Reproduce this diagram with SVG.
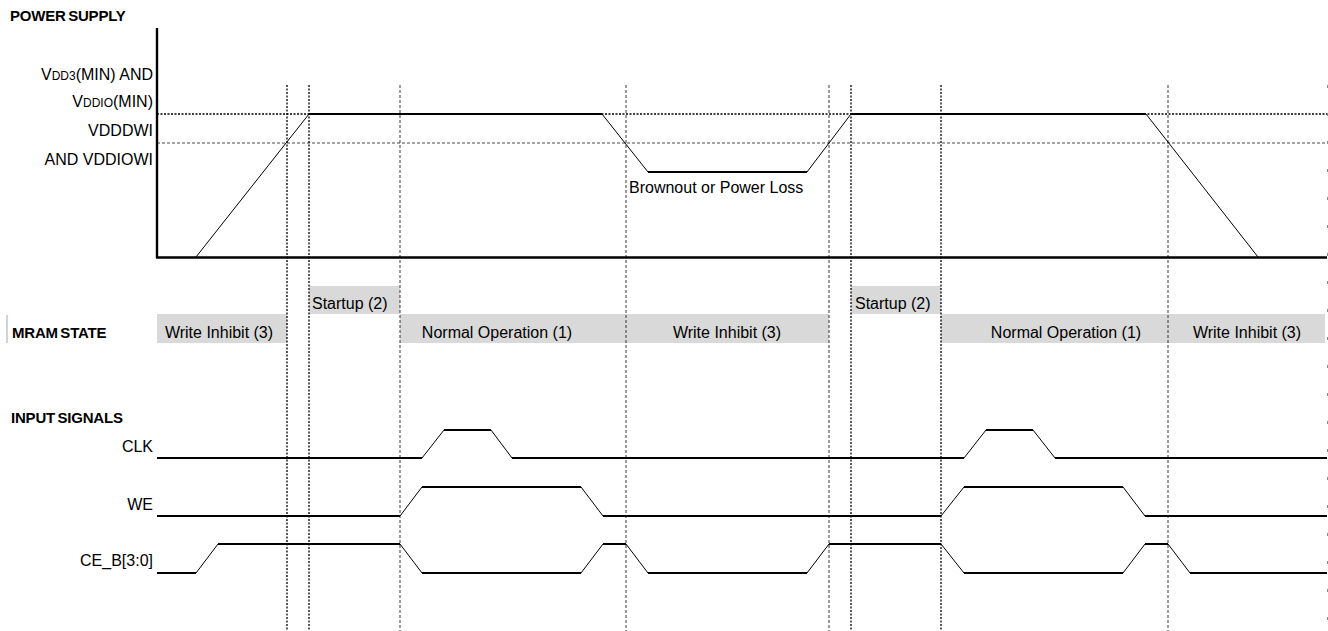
<svg xmlns="http://www.w3.org/2000/svg" width="1328" height="631" viewBox="0 0 1328 631">
<style>
text { font-family: "Liberation Sans", Arial, sans-serif; fill:#000; }
.lbl { font-size:16px; }
.hdr { font-size:15px; font-weight:bold; letter-spacing:-0.2px; word-spacing:-1.5px; }
.sm { font-size:12px; }
.box { fill:#d9d9d9; }
.hi { fill:none; stroke:#000; stroke-width:2.2; }
.sl { fill:none; stroke:#000; stroke-width:1; }
.ax { fill:none; stroke:#000; stroke-width:2.4; }
.vd1 { stroke:#000; stroke-width:1.3; stroke-dasharray:2 1.5; }
.vd2 { stroke:#222; stroke-width:0.9; stroke-dasharray:3 2; }
.hd1 { stroke:#000; stroke-width:1.3; stroke-dasharray:2 1.5; }
.hd2 { stroke:#333; stroke-width:0.9; stroke-dasharray:3 2; }
</style>
<rect width="1328" height="631" fill="#fff"/>

<g id="headers">
  <text class="hdr" x="10" y="21">POWER SUPPLY</text>
  <line x1="7" y1="315" x2="7" y2="343" stroke="#bcc6d6" stroke-width="1.5"/>
  <text class="hdr" x="12" y="338">MRAM STATE</text>
  <text class="hdr" x="11" y="423">INPUT SIGNALS</text>
</g>

<g id="level-labels" text-anchor="end">
  <text class="lbl" x="153" y="80">V<tspan class="sm">DD3</tspan>(MIN) AND</text>
  <text class="lbl" x="153" y="107">V<tspan class="sm">DDIO</tspan>(MIN)</text>
  <text class="lbl" x="153" y="136">VDDDWI</text>
  <text class="lbl" x="153" y="165">AND VDDIOWI</text>
</g>

<g id="signal-labels" text-anchor="end">
  <text class="lbl" x="153" y="452">CLK</text>
  <text class="lbl" x="153" y="510">WE</text>
  <text class="lbl" x="153" y="566">CE_B[3:0]</text>
</g>

<g id="mram-state">
  <rect class="box" x="157" y="314" width="130" height="29"/>
  <rect class="box" x="309" y="286" width="91" height="28"/>
  <rect class="box" x="400" y="314" width="226" height="29"/>
  <rect class="box" x="626" y="314" width="203" height="29"/>
  <rect class="box" x="851" y="286" width="90" height="28"/>
  <rect class="box" x="941" y="314" width="227" height="29"/>
  <rect class="box" x="1168" y="314" width="157" height="29"/>
  <text class="lbl" x="219" y="338" text-anchor="middle">Write Inhibit (3)</text>
  <text class="lbl" x="312" y="309">Startup (2)</text>
  <text class="lbl" x="497" y="338" text-anchor="middle">Normal Operation (1)</text>
  <text class="lbl" x="727" y="338" text-anchor="middle">Write Inhibit (3)</text>
  <text class="lbl" x="855" y="309">Startup (2)</text>
  <text class="lbl" x="1066" y="338" text-anchor="middle">Normal Operation (1)</text>
  <text class="lbl" x="1247" y="338" text-anchor="middle">Write Inhibit (3)</text>
</g>

<g id="guides">
  <line class="hd1" x1="157" y1="114" x2="1328" y2="114"/>
  <line class="hd2" x1="157" y1="143" x2="1328" y2="143"/>
  <line class="vd1" x1="287" y1="85" x2="287" y2="631"/>
  <line class="vd1" x1="309" y1="85" x2="309" y2="631"/>
  <line class="vd2" x1="400" y1="85" x2="400" y2="631"/>
  <line class="vd2" x1="626" y1="85" x2="626" y2="631"/>
  <line class="vd2" x1="829" y1="85" x2="829" y2="631"/>
  <line class="vd1" x1="851" y1="85" x2="851" y2="631"/>
  <line class="vd1" x1="941" y1="85" x2="941" y2="631"/>
  <line class="vd2" x1="1168" y1="85" x2="1168" y2="631"/>
  <line x1="1327.5" y1="85" x2="1327.5" y2="631" stroke="#888" stroke-width="1" stroke-dasharray="3 25"/>
</g>

<g id="power-supply">
  <path class="ax" d="M157,28 V258"/>
  <path class="ax" d="M156,257.5 H1327"/>
  <path class="hi" d="M309,114 H602 M851,114 H1146 M648,172 H807"/>
  <path class="sl" d="M196,257 L309,114 M602,114 L648,172 M807,172 L851,114 M1146,114 L1258,257"/>
  <text class="lbl" x="629" y="193">Brownout or Power Loss</text>
</g>

<g id="clk">
  <path class="hi" d="M157,458 H422 M444,430 H491 M512,458 H964 M986,430 H1033 M1055,458 H1327"/>
  <path class="sl" d="M422,458 L444,430 M491,430 L512,458 M964,458 L986,430 M1033,430 L1055,458"/>
</g>

<g id="we">
  <path class="hi" d="M157,516 H400 M422,487 H581 M603,516 H941 M964,487 H1123 M1145,516 H1327"/>
  <path class="sl" d="M400,516 L422,487 M581,487 L603,516 M941,516 L964,487 M1123,487 L1145,516"/>
</g>

<g id="ce-b">
  <path class="hi" d="M157,573 H196 M218,544 H400 M422,573 H581 M603,544 H626 M648,573 H807 M829,544 H941 M964,573 H1123 M1145,544 H1168 M1190,573 H1327"/>
  <path class="sl" d="M196,573 L218,544 M400,544 L422,573 M581,573 L603,544 M626,544 L648,573 M807,573 L829,544 M941,544 L964,573 M1123,573 L1145,544 M1168,544 L1190,573"/>
</g>
</svg>
